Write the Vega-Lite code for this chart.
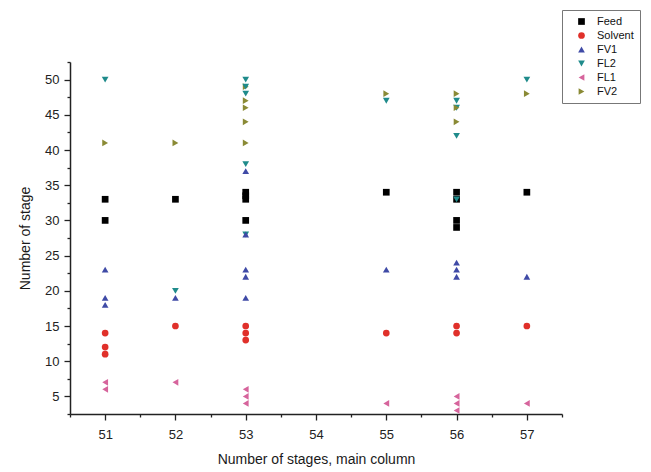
{
  "$schema": "https://vega.github.io/schema/vega-lite/v6.json",
  "width": 492,
  "height": 352,
  "autosize": {"type": "none"},
  "padding": {"left": 70, "top": 62, "right": 89, "bottom": 58},
  "background": "white",
  "config": {"view": {"stroke": null}, "font": "Liberation Sans"},
  "data": {
    "values": [
      {"stages": 51, "stage": 50, "series": "FL2"},
      {"stages": 51, "stage": 41, "series": "FV2"},
      {"stages": 51, "stage": 33, "series": "Feed"},
      {"stages": 51, "stage": 30, "series": "Feed"},
      {"stages": 51, "stage": 23, "series": "FV1"},
      {"stages": 51, "stage": 19, "series": "FV1"},
      {"stages": 51, "stage": 18, "series": "FV1"},
      {"stages": 51, "stage": 14, "series": "Solvent"},
      {"stages": 51, "stage": 12, "series": "Solvent"},
      {"stages": 51, "stage": 11, "series": "Solvent"},
      {"stages": 51, "stage": 7, "series": "FL1"},
      {"stages": 51, "stage": 6, "series": "FL1"},

      {"stages": 52, "stage": 41, "series": "FV2"},
      {"stages": 52, "stage": 33, "series": "Feed"},
      {"stages": 52, "stage": 20, "series": "FL2"},
      {"stages": 52, "stage": 19, "series": "FV1"},
      {"stages": 52, "stage": 15, "series": "Solvent"},
      {"stages": 52, "stage": 7, "series": "FL1"},

      {"stages": 53, "stage": 50, "series": "FL2"},
      {"stages": 53, "stage": 49, "series": "FV2"},
      {"stages": 53, "stage": 49, "series": "FL2"},
      {"stages": 53, "stage": 48, "series": "FL2"},
      {"stages": 53, "stage": 47, "series": "FV2"},
      {"stages": 53, "stage": 46, "series": "FV2"},
      {"stages": 53, "stage": 44, "series": "FV2"},
      {"stages": 53, "stage": 41, "series": "FV2"},
      {"stages": 53, "stage": 38, "series": "FL2"},
      {"stages": 53, "stage": 37, "series": "FV1"},
      {"stages": 53, "stage": 34, "series": "Feed"},
      {"stages": 53, "stage": 33.5, "series": "Feed"},
      {"stages": 53, "stage": 33, "series": "Feed"},
      {"stages": 53, "stage": 30, "series": "Feed"},
      {"stages": 53, "stage": 28, "series": "FL2"},
      {"stages": 53, "stage": 28, "series": "FV1"},
      {"stages": 53, "stage": 23, "series": "FV1"},
      {"stages": 53, "stage": 22, "series": "FV1"},
      {"stages": 53, "stage": 19, "series": "FV1"},
      {"stages": 53, "stage": 15, "series": "Solvent"},
      {"stages": 53, "stage": 14, "series": "Solvent"},
      {"stages": 53, "stage": 13, "series": "Solvent"},
      {"stages": 53, "stage": 6, "series": "FL1"},
      {"stages": 53, "stage": 5, "series": "FL1"},
      {"stages": 53, "stage": 4, "series": "FL1"},

      {"stages": 55, "stage": 48, "series": "FV2"},
      {"stages": 55, "stage": 47, "series": "FL2"},
      {"stages": 55, "stage": 34, "series": "Feed"},
      {"stages": 55, "stage": 23, "series": "FV1"},
      {"stages": 55, "stage": 14, "series": "Solvent"},
      {"stages": 55, "stage": 4, "series": "FL1"},

      {"stages": 56, "stage": 48, "series": "FV2"},
      {"stages": 56, "stage": 47, "series": "FL2"},
      {"stages": 56, "stage": 46, "series": "FL2"},
      {"stages": 56, "stage": 46, "series": "FV2"},
      {"stages": 56, "stage": 44, "series": "FV2"},
      {"stages": 56, "stage": 42, "series": "FL2"},
      {"stages": 56, "stage": 34, "series": "Feed"},
      {"stages": 56, "stage": 33, "series": "Feed"},
      {"stages": 56, "stage": 33, "series": "FL2"},
      {"stages": 56, "stage": 30, "series": "Feed"},
      {"stages": 56, "stage": 29, "series": "Feed"},
      {"stages": 56, "stage": 24, "series": "FV1"},
      {"stages": 56, "stage": 23, "series": "FV1"},
      {"stages": 56, "stage": 22, "series": "FV1"},
      {"stages": 56, "stage": 15, "series": "Solvent"},
      {"stages": 56, "stage": 14, "series": "Solvent"},
      {"stages": 56, "stage": 5, "series": "FL1"},
      {"stages": 56, "stage": 4, "series": "FL1"},
      {"stages": 56, "stage": 3, "series": "FL1"},

      {"stages": 57, "stage": 50, "series": "FL2"},
      {"stages": 57, "stage": 48, "series": "FV2"},
      {"stages": 57, "stage": 34, "series": "Feed"},
      {"stages": 57, "stage": 22, "series": "FV1"},
      {"stages": 57, "stage": 15, "series": "Solvent"},
      {"stages": 57, "stage": 4, "series": "FL1"}
    ]
  },
  "mark": {"type": "point", "filled": true, "opacity": 1},
  "encoding": {
    "x": {
      "field": "stages",
      "type": "quantitative",
      "scale": {"domain": [50.5, 57.5], "nice": false, "zero": false},
      "axis": {
        "title": "Number of stages, main column",
        "titleFontSize": 14,
        "titleFontWeight": "normal",
        "titleColor": "#1a1a1a",
        "titlePadding": 11,
        "values": [50.5, 51, 51.5, 52, 52.5, 53, 53.5, 54, 54.5, 55, 55.5, 56, 56.5, 57, 57.5],
        "labelExpr": "datum.value % 1 === 0 ? format(datum.value, 'd') : ''",
        "labelFontSize": 13,
        "labelColor": "#222",
        "labelPadding": 8,
        "tickSize": {"condition": {"test": "datum.value % 1 === 0", "value": 6}, "value": 3},
        "tickColor": "#222",
        "tickWidth": 1.3,
        "domainColor": "#222",
        "domainWidth": 1.5,
        "grid": false
      }
    },
    "y": {
      "field": "stage",
      "type": "quantitative",
      "scale": {"domain": [2.5, 52.5], "nice": false, "zero": false},
      "axis": {
        "title": "Number of stage",
        "titleFontSize": 14,
        "titleFontWeight": "normal",
        "titleColor": "#1a1a1a",
        "titlePadding": 12,
        "values": [2.5, 5, 7.5, 10, 12.5, 15, 17.5, 20, 22.5, 25, 27.5, 30, 32.5, 35, 37.5, 40, 42.5, 45, 47.5, 50, 52.5],
        "labelExpr": "datum.value % 5 === 0 ? format(datum.value, 'd') : ''",
        "labelFontSize": 13,
        "labelColor": "#222",
        "labelPadding": 5,
        "tickSize": {"condition": {"test": "datum.value % 5 === 0", "value": 6}, "value": 3},
        "tickColor": "#222",
        "tickWidth": 1.3,
        "domainColor": "#222",
        "domainWidth": 1.5,
        "grid": false
      }
    },
    "size": {
      "field": "series",
      "type": "nominal",
      "scale": {
        "domain": ["Feed", "Solvent", "FV1", "FL2", "FL1", "FV2"],
        "range": [45, 45, 80, 80, 80, 80]
      },
      "legend": null
    },
    "color": {
      "field": "series",
      "type": "nominal",
      "scale": {
        "domain": ["Feed", "Solvent", "FV1", "FL2", "FL1", "FV2"],
        "range": ["#000000", "#e0302a", "#3f4aa6", "#1f8b8b", "#d6649c", "#8a8a35"]
      },
      "legend": {
        "title": null,
        "orient": "none",
        "legendX": 492,
        "legendY": -52,
        "fillColor": "white",
        "strokeColor": "#777",
        "padding": 6,
        "labelFontSize": 11,
        "labelColor": "#111",
        "symbolSize": 40,
        "rowPadding": 2,
        "labelOffset": 10,
        "symbolOffset": 8
      }
    },
    "shape": {
      "field": "series",
      "type": "nominal",
      "scale": {
        "domain": ["Feed", "Solvent", "FV1", "FL2", "FL1", "FV2"],
        "range": ["square", "circle", "triangle-up", "triangle-down", "triangle-left", "triangle-right"]
      },
      "legend": null
    }
  }
}
